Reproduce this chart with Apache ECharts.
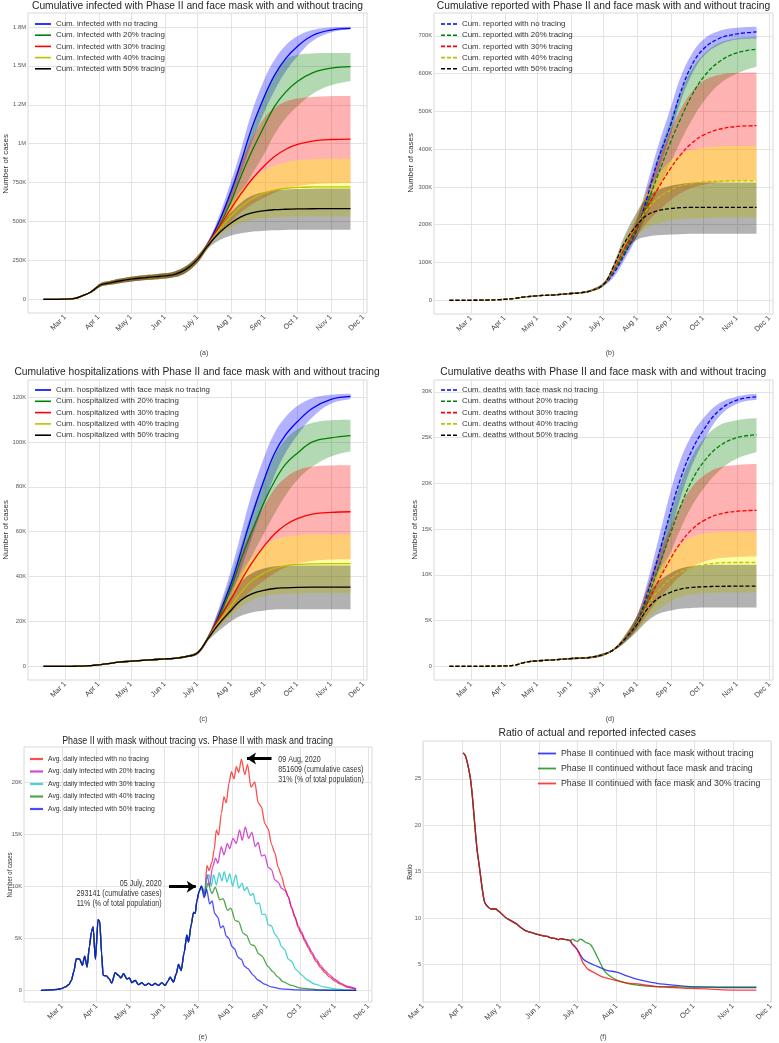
<!DOCTYPE html>
<html><head><meta charset="utf-8">
<script src="https://cdn.jsdelivr.net/npm/echarts@6/dist/echarts.min.js"></script>
<style>html,body{margin:0;padding:0;background:#fff}#c{width:779px;height:1043px}</style>
</head><body><div id="c"></div>
<script>
// ---------- axis ticks ----------
const monthDays = [60,91,121,152,182,213,244,274,305,335];
const monthLabels = ['Mar 1','Apr 1','May 1','Jun 1','July 1','Aug 1','Sep 1','Oct 1','Nov 1','Dec 1'];
const aTicks = [0,250,500,750,1000,1250,1500,1750];
const aTickLabels = ['0','250K','500K','750K','1M','1.2M','1.5M','1.8M'];
const bTicks = [0,100,200,300,400,500,600,700];
const bTickLabels = ['0','100K','200K','300K','400K','500K','600K','700K'];
const cTicks = [0,20,40,60,80,100,120];
const cTickLabels = ['0','20K','40K','60K','80K','100K','120K'];
const dTicks = [0,5,10,15,20,25,30];
const dTickLabels = ['0','5K','10K','15K','20K','25K','30K'];
const eTicks = [0,5,10,15,20];
const eTickLabels = ['0','5K','10K','15K','20K'];
const fTicks = [5,10,15,20,25];
const fTickLabels = ['5','10','15','20','25'];

// ---------- names ----------
const aNames = ['Cum. infected with no tracing','Cum. infected with 20% tracing','Cum. infected with 30% tracing','Cum. infected with 40% tracing','Cum. infected with 50% tracing'];
const bNames = ['Cum. reported with no tracing','Cum. reported with 20% tracing','Cum. reported with 30% tracing','Cum. reported with 40% tracing','Cum. reported with 50% tracing'];
const cNames = ['Cum. hospitalized with face mask no tracing','Cum. hospitalized with 20% tracing','Cum. hospitalized with 30% tracing','Cum. hospitalized with 40% tracing','Cum. hospitalized with 50% tracing'];
const dNames = ['Cum. deaths with face mask no tracing','Cum. deaths without 20% tracing','Cum. deaths without 30% tracing','Cum. deaths without 40% tracing','Cum. deaths without 50% tracing'];
const eNames = ['Avg. daily infected with no tracing','Avg. daily infected with 20% tracing','Avg. daily infected with 30% tracing','Avg. daily infected with 40% tracing','Avg. daily infected with 50% tracing'];
const fNames = ['Phase II continued with face mask without tracing','Phase II continued without face mask and tracing','Phase II continued with face mask and 30% tracing'];

// ---------- cumulative panels: day-of-year 2020 (Jan 1 = 0) ----------
const cumDaysEarly = [40,50,60,69,76,83,87,93,100,110,121,135,152,161,171,182];
const cumDaysLate = [191,201,213,222,232,244,253,263,274,288,305,323];

// (a) infected, thousands
const aEarly   = [0,0.3,1,6,23,44,64,94,104,118,130,140,151,161,191,257];
const aEarlyLo = [0,0.2,0.8,5,20,39,56,83,92,104,115,124,134,143,170,235];
const aEarlyHi = [0,0.4,1.2,7,26,49,72,105,116,132,145,156,168,179,212,279];
const aBlue     = [347,485,695,880,1100,1310,1440,1545,1625,1695,1730,1741];
const aBlueLo   = [327,450,640,810,1010,1210,1340,1460,1560,1660,1715,1735];
const aBlueHi   = [367,520,760,960,1200,1420,1540,1630,1690,1730,1748,1752];
const aGreen    = [343,458,630,790,950,1120,1240,1330,1400,1455,1485,1495];
const aGreenLo  = [323,425,560,680,800,940,1060,1160,1240,1320,1375,1401];
const aGreenHi  = [363,495,720,900,1100,1320,1450,1540,1570,1580,1582,1582];
const aRed      = [345,455,585,677,770,862,918,963,995,1017,1027,1030];
const aRedLo    = [325,415,500,560,610,655,685,710,728,740,746,748];
const aRedHi    = [365,500,700,870,1030,1170,1230,1270,1290,1300,1305,1306];
const aYellow   = [342,440,535,595,645,683,702,713,719,722,723,723];
const aYellowLo = [322,400,460,490,510,522,528,531,533,534,534,534];
const aYellowHi = [362,480,610,700,770,830,860,880,893,900,903,903];
const aBlack    = [340,420,490,530,555,570,576,579,581,582,583,583];
const aBlackLo  = [320,375,410,425,435,441,444,446,447,447,447,447];
const aBlackHi  = [360,460,560,620,665,690,700,706,709,711,712,712];

// (b) reported, thousands
const bEarly   = [0,0,0.1,0.3,0.8,1.5,2,3,5,9,12,14,18,20,26,42];
const bEarlyLo = [0,0,0.1,0.3,0.7,1.3,1.8,2.7,4.5,8.1,10.8,12.6,16.2,18,23.4,37.8];
const bEarlyHi = [0,0,0.1,0.3,0.9,1.7,2.2,3.3,5.5,9.9,13.2,15.4,19.8,22,28.6,46.2];
const bBlue     = [70,120,190,270,370,465,550,620,665,692,705,710];
const bBlueLo   = [60,105,170,240,335,440,525,595,645,675,690,693];
const bBlueHi   = [80,135,215,305,405,510,590,650,690,712,721,724];
const bGreen    = [75,125,192,255,330,420,480,540,590,630,655,664];
const bGreenLo  = [68,112,172,225,290,365,420,475,525,570,600,618];
const bGreenHi  = [82,140,215,290,380,480,550,610,650,680,693,697];
const bRed      = [80,135,195,245,295,350,385,415,437,452,460,462];
const bRedLo    = [72,120,170,205,235,265,283,297,306,312,315,317];
const bRedHi    = [88,150,222,290,365,450,505,550,580,596,602,603];
const bYellow   = [85,145,200,240,270,292,303,309,313,315,316,316];
const bYellowLo = [78,130,172,192,203,211,215,217,218,219,219,219];
const bYellowHi = [92,160,228,285,330,370,388,398,404,407,408,408];
const bBlack    = [88,150,200,225,237,243,245,246,246,246,246,246];
const bBlackLo  = [80,130,160,168,172,174,175,176,176,176,176,176];
const bBlackHi  = [95,168,235,272,292,303,308,311,312,312,312,312];

// (c) hospitalized, thousands
const cEarly   = [0,0,0,0.05,0.1,0.3,0.5,0.8,1.2,1.9,2.3,2.8,3.3,3.6,4.3,6.0];
const cEarlyLo = [0,0,0,0.05,0.09,0.27,0.45,0.72,1.08,1.71,2.07,2.52,2.97,3.24,3.87,5.4];
const cEarlyHi = [0,0,0,0.06,0.11,0.33,0.55,0.88,1.32,2.09,2.53,3.08,3.63,3.96,4.73,6.6];
const cBlue     = [12,22,37,51,67,84,95,103,109,115,119,120.3];
const cBlueLo   = [11,19,31,43,57,73,85,95,103,111,117,119];
const cBlueHi   = [13,25,43,59,77,94,104,111,116,119.5,121,121.5];
const cGreen    = [12,21,35,47.6,60,73.8,82.5,90,95,100,101.8,102.8];
const cGreenLo  = [11.5,19,30,39,49,60,68,76,83,89,93.5,95.7];
const cGreenHi  = [13,24,40,54,69,84,94,101,105.5,108.5,109.7,109.9];
const cRed      = [12,20.5,30,38,46,54,59,63,65.8,67.8,68.6,68.9];
const cRedLo    = [11,17.5,24,29,34,38.5,41.5,44,45.8,47,47.6,47.7];
const cRedHi    = [13,24,38,50,61,72,79,84,87.3,89,89.5,89.6];
const cYellow   = [12,19.5,27,33,38,41.8,43.7,44.8,45.4,45.7,45.8,45.8];
const cYellowLo = [11,17,22.5,26.5,29.5,31.3,32,32.4,32.5,32.6,32.6,32.6];
const cYellowHi = [13,22.5,33,41.5,48.5,54,56.5,57.8,58.4,58.7,58.8,58.8];
const cBlack    = [12,18.5,25,29.5,32.3,34,34.7,35,35.2,35.3,35.3,35.3];
const cBlackLo  = [11,15.5,20,22.5,24,24.9,25.3,25.4,25.5,25.5,25.5,25.5];
const cBlackHi  = [13,21.5,31,37.5,41.5,43.7,44.5,44.8,44.9,44.9,44.9,44.9];

// (d) deaths, thousands
const dEarly   = [0,0,0,0,0.01,0.02,0.04,0.06,0.12,0.45,0.6,0.7,0.85,0.9,1.0,1.3];
const dEarlyLo = [0,0,0,0,0.01,0.02,0.035,0.055,0.11,0.4,0.54,0.63,0.77,0.81,0.9,1.17];
const dEarlyHi = [0,0,0,0,0.01,0.02,0.045,0.065,0.13,0.5,0.66,0.77,0.94,0.99,1.1,1.43];
const dBlue     = [1.8,2.9,4.9,7.8,11.8,17,20.5,23.5,25.8,27.9,29.1,29.45];
const dBlueLo   = [1.7,2.6,4.2,6.6,10,14.8,18.4,21.8,24.5,27.2,28.7,29.1];
const dBlueHi   = [1.9,3.1,5.6,9,13.6,19.2,22.6,25.2,27.1,28.7,29.5,29.8];
const dGreen    = [1.8,2.9,4.8,7.3,10.6,14.6,17.5,20.2,22.3,24,25,25.3];
const dGreenLo  = [1.7,2.6,4.2,6.3,9.1,12.5,15,17.4,19.4,21.3,22.7,23.4];
const dGreenHi  = [1.9,3.1,5.5,8.5,12.3,16.8,20,22.8,24.8,26.3,26.9,27.1];
const dRed      = [1.8,2.9,4.7,6.8,9.2,11.8,13.5,14.9,15.9,16.6,16.95,17.05];
const dRedLo    = [1.7,2.6,4.1,5.6,7.2,8.8,9.9,10.8,11.4,11.8,11.95,12];
const dRedHi    = [1.9,3.2,5.6,8.5,11.8,15.3,17.6,19.5,20.8,21.7,22,22.1];
const dYellow   = [1.8,2.9,4.7,6.5,8.2,9.6,10.3,10.8,11.1,11.3,11.35,11.35];
const dYellowLo = [1.7,2.6,4,5.1,6.2,7.1,7.6,7.85,7.98,8.05,8.07,8.07];
const dYellowHi = [1.9,3.2,5.5,7.9,10.3,12.3,13.4,14.1,14.5,14.65,14.7,14.7];
const dBlack    = [1.8,2.9,4.6,6.2,7.4,8.1,8.45,8.62,8.7,8.74,8.76,8.76];
const dBlackLo  = [1.7,2.5,3.8,4.9,5.7,6.1,6.3,6.38,6.42,6.44,6.44,6.44];
const dBlackHi  = [1.9,3.3,5.5,7.6,9.2,10.2,10.7,10.95,11.05,11.1,11.1,11.1];

// (e) average daily infected, thousands
const eEarlyDays = [41,50,56,60,63,66,68.3,70.5,72.8,75.8,78.2,80.3,82.4,84.5,86.3,87.8,89.9,92.3,93.8,95.5,96.8,99.8,102,104.6,107.6,110.6,112.8,115.2,118.2,120.4,122.6,125.6,128.6,131.6,134.6,137.6,140.6,143.5,146.5,149.5,152.5,155,157,160,162.5,164.5,166.9,169.5,172,173.5,175.9,178,179.5,181,183,185];
const eEarly = [0,0.05,0.1,0.2,0.35,0.55,0.96,1.8,3.05,3.0,2.4,3.3,2.25,4.2,5.6,6.1,3.0,6.8,6.6,3.5,1.45,1.4,1.15,0.7,1.7,1.45,1.2,1.6,1.1,1.2,0.74,0.96,0.55,0.74,0.48,0.67,0.48,0.67,0.48,0.74,0.48,0.9,1.28,0.8,1.6,2.5,1.9,3.6,5.3,4.65,6.3,7.5,7.4,8.6,9.5,10.0];
const eRedDays = [188,190,192,194.5,196.5,198.5,200.5,203,205.3,207.4,209.8,212,214.3,216.5,218.5,221,224,226.5,229.5,233,236,239,242,245,248,251,254,257,260,263,266,269,272,275,278,281,284,288,292,296,300,305,310,316,324];
const eRed = [9.3,12.0,11.5,12.3,13.5,15.4,14.9,17.0,18.6,18.0,19.9,21.0,20.3,21.5,20.9,22.2,20.7,21.7,19.5,20.0,18.0,17.6,16.0,15.5,14.0,13.2,11.8,11.0,9.8,9.0,7.9,7.0,6.0,5.4,4.7,4.1,3.5,2.8,2.2,1.7,1.3,0.9,0.6,0.3,0.12];
const eMagDays = [188,190.3,192.4,195,197.8,199.9,202.9,205.3,208.3,210.4,213.4,216.4,219.3,221.7,224.4,227.4,230.4,233.4,236,239,242,245,248,251,254,257,260,263,266,269,272,275,278,281,284,288,292,296,300,305,310,316,324];
const eMag = [9.3,11.1,10.0,11.8,12.7,12.2,13.8,13.0,14.1,13.6,14.6,14.1,15.4,14.4,15.7,14.6,15.2,13.8,14.2,12.9,13.0,11.8,11.6,10.6,10.4,9.8,9.6,9.0,8.0,7.1,6.2,5.6,4.9,4.3,3.7,3.0,2.4,1.9,1.5,1.05,0.7,0.4,0.15];
const eCyanDays = [188,190,192,194,196,198.5,201,203.5,205.5,208,210.5,213,216,218.5,221.5,223.6,226,229,231.5,234,237,239.5,242.5,245,248,251,254,257,260,263,266,270,275,280,287,295,305,315,324];
const eCyan = [9.4,10.9,11.1,10.0,11.1,10.1,11.3,10.5,11.4,10.4,11.2,10.0,11.1,9.8,10.3,9.6,9.9,9.1,9.3,8.3,8.4,7.3,7.3,6.3,6.2,5.4,5.0,4.2,3.9,3.0,2.8,2.0,1.5,1.0,0.6,0.35,0.15,0.05,0.02];
const eGreenDays = [188,191,194.5,197.5,201.5,204.5,208.5,211.5,215.5,218.5,222.5,225.5,229.5,232.5,236.5,239.5,244.8,249.2,253.7,258.2,265.7,274.6,289.6,304.5,324];
const eGreen = [9.0,10.3,9.3,9.9,8.7,8.8,7.7,7.9,6.7,6.6,5.5,5.3,4.4,4.3,3.5,3.3,2.3,1.8,1.3,0.85,0.48,0.22,0.06,0.02,0];
const eBlueDays = [187.4,189.8,192.4,194.8,196.9,199.9,202.3,204.7,207.4,209.8,212.5,214.8,217.8,220.8,223.8,226.8,231.3,235.8,241.7,247.7,256.7,271.6,286.6,324];
const eBlue = [8.9,9.7,8.3,8.6,7.4,7.0,6.0,6.2,5.2,5.0,4.2,4.0,3.2,3.0,2.3,2.1,1.5,1.0,0.6,0.35,0.15,0.05,0.02,0];
// annotation arrows (day, thousands)
const arrowJul = [[156, 9.95],[180, 9.95]];
const arrowAug = [[248, 22.25],[226, 22.25]];

// (f) ratio
const fCommonDays = [91.7,93.5,95.6,97.5,99.1,100.9,102.8,104.3,107,108.8,111.5,114.1,117.5,119.4,122,126,130,133.9,136.5,140.5,144.5,149.7,155,158.2,161,164.2,166.9,168.7,170.8,173.5,176.1];
const fCommon = [27.8,27.5,26.4,25.0,23.0,20.1,17.3,15.8,13.0,11.7,11.2,11.0,11.0,10.8,10.5,10.0,9.7,9.4,9.1,8.7,8.5,8.3,8.1,8.05,7.9,7.85,7.7,7.8,7.75,7.7,7.6];
const fBlueDays = [178.2,180.3,182,184,186.7,190.6,194.6,199.9,205.2,213.1,221,228.9,236.8,244.7,257.9,271.1,284.3,297.5,323.4];
const fBlue = [7.2,6.9,6.6,6.15,5.6,5.25,5.0,4.7,4.4,4.2,3.8,3.45,3.2,3.0,2.8,2.65,2.6,2.55,2.55];
const fGreenDays = [178.2,180.1,182,184,186.2,188.5,190.6,192.5,194.6,197.2,199.9,202.5,205.2,209.1,213.1,218.4,226.3,236.8,244.7,257.9,271.1,297.5,323.4];
const fGreen = [7.75,7.6,7.5,7.75,7.65,7.4,7.3,7.15,6.7,6.0,5.25,4.5,4.05,3.65,3.35,3.1,2.85,2.7,2.65,2.63,2.6,2.6,2.6];
const fRedDays = [178.2,180.3,182,184.6,186.2,188,190.6,194.6,199.9,205.2,213.1,221,231.5,244.7,257.9,271.1,284.3,297.5,310.7,323.4];
const fRed = [7.2,6.9,6.6,5.8,5.25,4.9,4.5,4.2,3.8,3.55,3.3,3.05,2.9,2.65,2.55,2.45,2.4,2.3,2.27,2.27];

// ---------- styling / layout ----------
const FONT = "'Liberation Sans', Arial, Helvetica, sans-serif";
const lineColors = ['#0000ff','#008000','#ff0000','#bfbf00','#000000'];
const bandColors = ['rgba(0,0,255,0.3)','rgba(0,128,0,0.3)','rgba(255,0,0,0.3)','rgba(255,255,0,0.35)','rgba(0,0,0,0.3)'];
const eColors = ['rgba(255,0,0,0.7)','rgba(191,0,191,0.7)','rgba(0,191,191,0.7)','rgba(0,128,0,0.7)','rgba(0,0,255,0.7)'];
const fColors = ['rgba(0,0,255,0.75)','rgba(0,128,0,0.75)','rgba(255,0,0,0.75)'];

const gridDefs = [
  {left:28, top:13, width:339, height:300},
  {left:434, top:13, width:339, height:301},
  {left:28, top:380, width:339, height:300},
  {left:434, top:380, width:339, height:300},
  {left:24, top:747, width:348, height:255},
  {left:423, top:741, width:348, height:261}
];
const xRanges = [[25.8,338.2],[25.8,338.2],[25.8,338.2],[25.8,338.2],[25.8,338.2],[60,335]];
const yRanges = [[-87.6,1839.6],[-36.2,760.2],[-6.08,127.6],[-1.49,31.29],[-1.11,23.36],[0.99,29.08]];
const yTickSets = [[aTicks,aTickLabels],[bTicks,bTickLabels],[cTicks,cTickLabels],[dTicks,dTickLabels],[eTicks,eTickLabels],[fTicks,fTickLabels]];

function zip(days, vals){ return days.map((d,i)=>[d, vals[i]]); }

const grid = gridDefs.map(g => Object.assign({show:true, borderColor:'#d8d8d8', borderWidth:1, backgroundColor:'#ffffff', containLabel:false, outerBoundsMode:'none'}, g));
const xAxis = gridDefs.map((g,i)=>({
  type:'value', gridIndex:i, min:xRanges[i][0], max:xRanges[i][1],
  axisLine:{show:false}, axisTick:{show:false, customValues:monthDays},
  axisLabel:{customValues:monthDays, rotate:45, margin:3, fontSize:7.4, color:'#444', fontFamily:FONT,
    formatter: v => monthLabels[monthDays.indexOf(Math.round(v))] || ''},
  splitLine:{show:true, lineStyle:{color:'#e3e3e3', width:1}}
}));
const yAxis = gridDefs.map((g,i)=>({
  type:'value', gridIndex:i, min:yRanges[i][0], max:yRanges[i][1],
  axisLine:{show:false}, axisTick:{show:false, customValues:yTickSets[i][0]},
  axisLabel:{customValues:yTickSets[i][0], margin:2, fontSize: i===5?5.6:5.8, color:'#555', fontFamily:FONT,
    formatter: v => yTickSets[i][1][yTickSets[i][0].indexOf(Math.round(v))]},
  splitLine:{show:true, lineStyle:{color:'#e3e3e3', width:1}}
}));

const series = [];
// band = lower bound + stacked (upper - lower); value stored first so the stack acts on y
function addBand(gi, id, days, lo, hi, color){
  series.push({type:'line', xAxisIndex:gi, yAxisIndex:gi, stack:id, encode:{x:1, y:0},
    data: days.map((d,i)=>[lo[i], d]), symbol:'none', smooth:0.4,
    lineStyle:{opacity:0, width:0}, silent:true, z:1, animation:false});
  series.push({type:'line', xAxisIndex:gi, yAxisIndex:gi, stack:id, encode:{x:1, y:0},
    data: days.map((d,i)=>[hi[i]-lo[i], d]), symbol:'none', smooth:0.4,
    lineStyle:{opacity:0, width:0}, areaStyle:{color:color, opacity:1}, silent:true, z:1, animation:false});
}
function addLine(gi, name, days, vals, color, width, dashed, smooth, mono){
  const s = {type:'line', name, xAxisIndex:gi, yAxisIndex:gi, data: zip(days, vals), symbol:'none', showSymbol:false, smooth: smooth,
    lineStyle:{color, width, type: dashed ? [4,2] : 'solid'}, itemStyle:{color}, z:3, silent:true, animation:false};
  if (mono) s.smoothMonotone = mono;
  series.push(s);
}

const cumDays = cumDaysEarly.concat(cumDaysLate);
const panels = [
  {gi:0, early:aEarly, lo:aEarlyLo, hi:aEarlyHi, m:[aBlue,aGreen,aRed,aYellow,aBlack], l:[aBlueLo,aGreenLo,aRedLo,aYellowLo,aBlackLo], h:[aBlueHi,aGreenHi,aRedHi,aYellowHi,aBlackHi], names:aNames, dashed:false},
  {gi:1, early:bEarly, lo:bEarlyLo, hi:bEarlyHi, m:[bBlue,bGreen,bRed,bYellow,bBlack], l:[bBlueLo,bGreenLo,bRedLo,bYellowLo,bBlackLo], h:[bBlueHi,bGreenHi,bRedHi,bYellowHi,bBlackHi], names:bNames, dashed:true},
  {gi:2, early:cEarly, lo:cEarlyLo, hi:cEarlyHi, m:[cBlue,cGreen,cRed,cYellow,cBlack], l:[cBlueLo,cGreenLo,cRedLo,cYellowLo,cBlackLo], h:[cBlueHi,cGreenHi,cRedHi,cYellowHi,cBlackHi], names:cNames, dashed:false},
  {gi:3, early:dEarly, lo:dEarlyLo, hi:dEarlyHi, m:[dBlue,dGreen,dRed,dYellow,dBlack], l:[dBlueLo,dGreenLo,dRedLo,dYellowLo,dBlackLo], h:[dBlueHi,dGreenHi,dRedHi,dYellowHi,dBlackHi], names:dNames, dashed:true}
];
panels.forEach(p => {
  for (let k=0;k<5;k++) addBand(p.gi, 'band'+p.gi+'_'+k, cumDays, p.lo.concat(p.l[k]), p.hi.concat(p.h[k]), bandColors[k]);
  for (let k=0;k<5;k++) addLine(p.gi, p.names[k], cumDays, p.early.concat(p.m[k]), lineColors[k], 1.3, p.dashed, 0.4);
});

// (e)
const eTails = [[eRedDays,eRed],[eMagDays,eMag],[eCyanDays,eCyan],[eGreenDays,eGreen],[eBlueDays,eBlue]];
eTails.forEach((t,k) => addLine(4, eNames[k], eEarlyDays.concat(t[0]), eEarly.concat(t[1]), eColors[k], 1.3, false, 0.25, 'x'));
series[series.length-1].markLine = {
  silent:true, animation:false, symbol:['none','arrow'], symbolSize:[9,9],
  label:{show:false}, lineStyle:{color:'#000', width:3, type:'solid'},
  data:[
    [{coord:arrowJul[0], symbol:'none'},{coord:arrowJul[1], symbol:'arrow'}],
    [{coord:arrowAug[0], symbol:'none'},{coord:arrowAug[1], symbol:'arrow'}]
  ]
};

// (f)
const fTails = [[fBlueDays,fBlue],[fGreenDays,fGreen],[fRedDays,fRed]];
fTails.forEach((t,k) => addLine(5, fNames[k], fCommonDays.concat(t[0]), fCommon.concat(t[1]), fColors[k], 1.3, false, 0.3));

// ---------- legends ----------
const SOLID = 'rect';
const DASH = 'path://M0,0H4V1H0Z M6,0H10V1H6Z M12,0H16V1H12Z';
function leg(names, left, top, size, lh, gap, iw, ih, icon){
  return {data:names, left, top, orient:'vertical', padding:0, itemWidth:iw, itemHeight:ih, itemGap:gap, selectedMode:false,
    icon, symbolKeepAspect:false, itemStyle:{borderWidth:0},
    textStyle:{fontSize:size, color:'#333', lineHeight:lh, fontFamily:FONT}};
}
const legend = [
  leg(aNames, 35, 19, 7.9, 10, 1.2, 16, 1.6, SOLID),
  leg(bNames, 441, 19, 7.9, 10, 1.2, 16, 1.6, DASH),
  leg(cNames, 35, 385, 7.9, 10, 1.3, 16, 1.6, SOLID),
  leg(dNames, 441, 385, 7.9, 10, 1.3, 16, 1.6, DASH),
  leg(eNames, 30, 754, 6.8, 10, 2.5, 13, 2.2, SOLID),
  leg(fNames, 538, 748, 8.8, 11, 4, 18, 1.8, SOLID)
];

// ---------- text ----------
function txt(x, y, text, size, o){
  o = o || {};
  const align = o.align || 'center', va = o.va || 'middle';
  return {type:'text', x, y, rotation:o.rot||0, scaleX:o.sx||1, silent:true, z:100,
    style:{text, fill:o.color||'#333', fontSize:size, fontFamily:FONT, align, verticalAlign:va, textAlign:align, textVerticalAlign:va, lineHeight:o.lh}};
}
const R = Math.PI/2;
const graphic = [
  txt(197.5, 6.5, 'Cumulative infected with Phase II and face mask with and without tracing', 10.25, {color:'#262626'}),
  txt(603.5, 6.5, 'Cumulative reported with Phase II and face mask with and without tracing', 10.25, {color:'#262626'}),
  txt(197, 372.5, 'Cumulative hospitalizations with Phase II and face mask with and without tracing', 10.25, {color:'#262626'}),
  txt(603.3, 372.5, 'Cumulative deaths with Phase II and face mask with and without tracing', 10.25, {color:'#262626'}),
  txt(197.5, 740.7, 'Phase II with mask without tracing vs. Phase II with mask and tracing', 10.8, {color:'#262626', sx:0.82}),
  txt(597.2, 733.5, 'Ratio of actual and reported infected cases', 10.4, {color:'#262626'}),
  txt(5.5, 164, 'Number of cases', 7.9, {rot:R}),
  txt(410.7, 163, 'Number of cases', 7.9, {rot:R}),
  txt(5.5, 530, 'Number of cases', 7.9, {rot:R}),
  txt(415, 530, 'Number of cases', 7.9, {rot:R}),
  txt(10, 875, 'Number of cases', 7, {rot:R, sx:0.85}),
  txt(410, 872, 'Ratio', 6.6, {rot:R}),
  txt(204, 353.3, '(a)', 7, {color:'#444'}),
  txt(610, 353.3, '(b)', 7, {color:'#444'}),
  txt(203.3, 719.3, '(c)', 7, {color:'#444'}),
  txt(610, 719.3, '(d)', 7, {color:'#444'}),
  txt(202.7, 1036.7, '(e)', 7, {color:'#444'}),
  txt(603.3, 1036.7, '(f)', 7, {color:'#444'}),
  txt(161.7, 893.3, '05 July, 2020\n293141 (cumulative cases)\n11% (% of total population)', 8.7, {align:'right', lh:10, sx:0.82}),
  txt(278.3, 769.3, '09 Aug, 2020\n851609 (cumulative cases)\n31% (% of total population)', 8.7, {align:'left', lh:10, sx:0.82})
];

const chart = echarts.init(document.getElementById('c'), null, {renderer:'canvas'});
chart.setOption({
  animation:false,
  backgroundColor:'#ffffff',
  textStyle:{fontFamily:FONT},
  grid, xAxis, yAxis, series, legend, graphic
});
</script></body></html>
